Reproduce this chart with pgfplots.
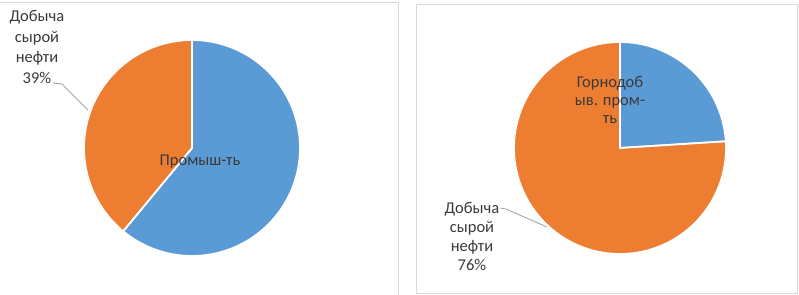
\documentclass[border=0pt]{standalone}
\usepackage{pgfplots}
\pgfplotsset{compat=1.18}
\usepackage{fontspec}
\setmainfont{Carlito}
\definecolor{pblue}{HTML}{5B9BD5}
\definecolor{porange}{HTML}{ED7D31}
\definecolor{txt}{HTML}{3A3A3A}
\definecolor{lead}{HTML}{A5A5A5}
\definecolor{frame}{HTML}{D9D9D9}
\tikzset{lbl/.style={font=\fontsize{16.5bp}{20.8bp}\selectfont, text=txt, align=center, inner sep=0pt}}
% shares (percent)
\def\LeftBlue{61}   % Промыш-ть
\def\LeftOrange{39} % Добыча сырой нефти
\def\RightBlue{24}  % Горнодоб. пром-ть
\def\RightOrange{76}% Добыча сырой нефти
\begin{document}
\begin{tikzpicture}
\path[use as bounding box] (0,0) rectangle (799bp,295bp);
\begin{axis}[at={(0,0)}, anchor=south west, scale only axis,
  width=799bp, height=295bp, xmin=0, xmax=799, ymin=0, ymax=295,
  hide axis, clip=false, y dir=reverse]
% frames
\addplot[frame, line width=0.8bp, no marks] coordinates {(0,2) (398,2) (398,295)};
\addplot[frame, line width=0.8bp, no marks] coordinates {(416,4) (797,4) (797,293) (416,293) (416,4)};
% left pie
\addplot[fill=pblue, draw=white, line width=1.8bp, domain=90:90-3.6*\LeftBlue, samples=150, variable=\t]
  ({192+108*cos(\t)},{148-108*sin(\t)}) -- (axis cs:192,148) -- cycle;
\addplot[fill=porange, draw=white, line width=1.8bp, domain=90-3.6*\LeftBlue:-270, samples=100, variable=\t]
  ({192+108*cos(\t)},{148-108*sin(\t)}) -- (axis cs:192,148) -- cycle;
% right pie
\addplot[fill=pblue, draw=white, line width=1.8bp, domain=90:90-3.6*\RightBlue, samples=60, variable=\t]
  ({620+106*cos(\t)},{148-106*sin(\t)}) -- (axis cs:620,148) -- cycle;
\addplot[fill=porange, draw=white, line width=1.8bp, domain=90-3.6*\RightBlue:-270, samples=200, variable=\t]
  ({620+106*cos(\t)},{148-106*sin(\t)}) -- (axis cs:620,148) -- cycle;
% leader lines
\addplot[lead, line width=0.9bp, no marks] coordinates {(53,83) (62,84) (88,110)};
\addplot[lead, line width=0.9bp, no marks] coordinates {(500,208) (506,209) (547,227)};
% labels
\node[lbl] at (axis cs:37,47) {Добыча\\сырой\\нефти\\\LeftOrange\%};
\node[lbl] at (axis cs:200,162) {Промыш-ть};
\node[lbl, font=\fontsize{16.5bp}{19bp}\selectfont] at (axis cs:472,236) {Добыча\\сырой\\нефти\\\RightOrange\%};
\node[lbl, font=\fontsize{16.5bp}{18bp}\selectfont] at (axis cs:610,100) {Горнодоб\\ыв. пром-\\ть};
\end{axis}
\end{tikzpicture}
\end{document}
